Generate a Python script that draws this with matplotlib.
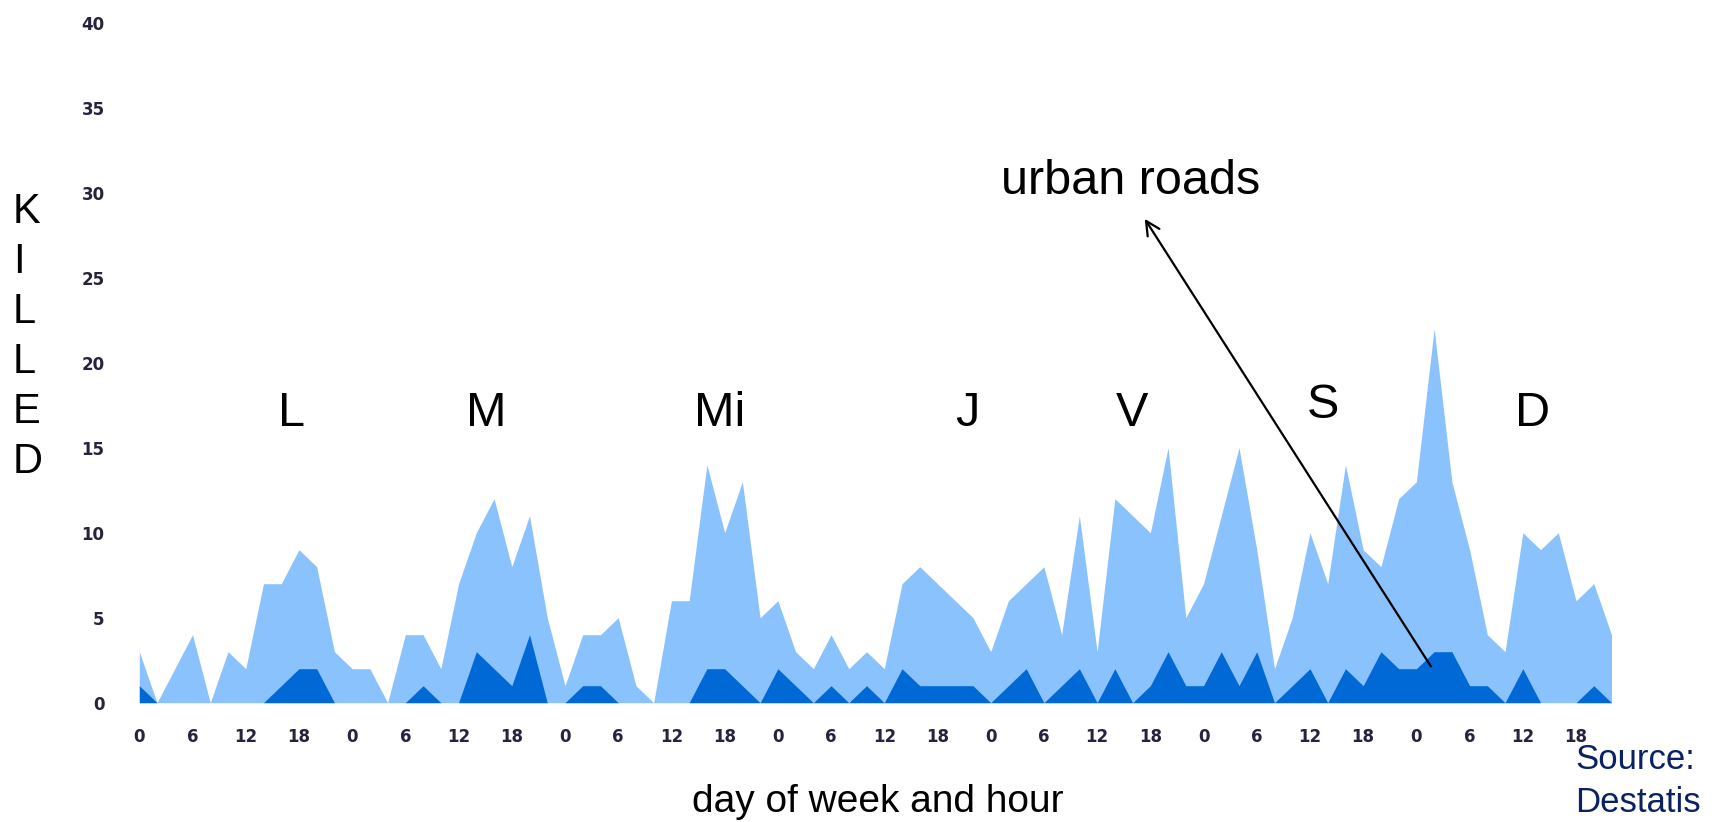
import numpy as np
import matplotlib
matplotlib.use("Agg")
import matplotlib.pyplot as plt

# killed per 2-hour slot, Monday 0h .. Sunday 22h (7 days x 12 slots)
all_roads = [3, 0, 2, 4, 0, 3, 2, 7, 7, 9, 8, 3,
             2, 2, 0, 4, 4, 2, 7, 10, 12, 8, 11, 5,
             1, 4, 4, 5, 1, 0, 6, 6, 14, 10, 13, 5,
             6, 3, 2, 4, 2, 3, 2, 7, 8, 7, 6, 5,
             3, 6, 7, 8, 4, 11, 3, 12, 11, 10, 15, 5,
             7, 11, 15, 9, 2, 5, 10, 7, 14, 9, 8, 12,
             13, 22, 13, 9, 4, 3, 10, 9, 10, 6, 7, 4]
urban_roads = [1, 0, 0, 0, 0, 0, 0, 0, 1, 2, 2, 0,
               0, 0, 0, 0, 1, 0, 0, 3, 2, 1, 4, 0,
               0, 1, 1, 0, 0, 0, 0, 0, 2, 2, 1, 0,
               2, 1, 0, 1, 0, 1, 0, 2, 1, 1, 1, 1,
               0, 1, 2, 0, 1, 2, 0, 2, 0, 1, 3, 1,
               1, 3, 1, 3, 0, 1, 2, 0, 2, 1, 3, 2,
               2, 3, 3, 1, 1, 0, 2, 0, 0, 0, 1, 0]
hour_labels = ["0", "6", "12", "18"] * 7
y_ticks = list(range(0, 41, 5))
days = ["L", "M", "Mi", "J", "V", "S", "D"]
day_x = [291, 486, 720, 967, 1132, 1323, 1533]      # pixel centres of day letters
day_base = [426, 426, 426, 426, 426, 418, 426]

W, H = 1723, 822
fig = plt.figure(figsize=(W / 100, H / 100), dpi=100)
ax = fig.add_axes([139.3 / W, 1 - 702.7 / H, (1611.5 - 139.3) / W, (702.7 - 22.7) / H])

x = np.arange(len(all_roads))
ax.fill_between(x, 0, all_roads, color="#8ac2fe", lw=0)
ax.fill_between(x, 0, urban_roads, color="#0069d6", lw=0)

ax.set_xlim(0, len(all_roads) - 1)
ax.set_ylim(0, 40)
ax.set_xticks(x[::3])
ax.set_xticklabels(hour_labels)
ax.set_yticks(y_ticks)
ax.tick_params(length=0, labelsize=12, labelcolor="#26233f")
ax.tick_params(axis="x", pad=18)
ax.tick_params(axis="y", pad=25)
for lab in ax.get_xticklabels() + ax.get_yticklabels():
    lab.set_fontweight("bold")
for s in ax.spines.values():
    s.set_visible(False)

font = "Liberation Sans"
for d, px, py in zip(days, day_x, day_base):
    fig.text(px / W, 1 - py / H, d, ha="center", va="baseline", fontsize=35, family=font)

for i, ch in enumerate("KILLED"):
    fig.text(13 / W, 1 - (223 + 50 * i) / H, ch, ha="left", va="baseline", fontsize=30, family=font)

fig.text(1131 / W, 1 - 194 / H, "urban roads", ha="center", va="baseline", fontsize=35, family=font)
ax.annotate("", xy=(56.6, 28.6), xytext=(72.9, 2.0),
            arrowprops=dict(arrowstyle="->", lw=1.6, color="black", mutation_scale=25))

fig.text(878 / W, 1 - 812 / H, "day of week and hour", ha="center", va="baseline", fontsize=28, family=font)
fig.text(1575 / W, 1 - 769 / H, "Source:", ha="left", va="baseline", fontsize=25, family=font, color="#0a2263")
fig.text(1575 / W, 1 - 812 / H, "Destatis", ha="left", va="baseline", fontsize=25, family=font, color="#0a2263")

fig.savefig("out.png", dpi=100)
